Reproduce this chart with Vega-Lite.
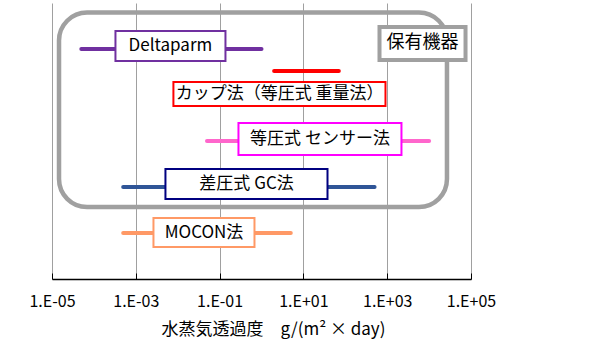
{
  "$schema": "https://vega.github.io/schema/vega-lite/v6.json",
  "width": 419,
  "height": 276,
  "autosize": "none",
  "padding": {"left": 52, "top": 3, "right": 134, "bottom": 78},
  "config": {"view": {"stroke": null}, "font": "Noto Sans CJK JP"},
  "datasets": {
    "methods": [
      {"name": "Deltaparm", "lo": 5e-5, "hi": 1, "row": 1.0, "boxLo": 3.27e-4, "boxHi": 0.138, "boxTop": 0.61, "boxBottom": 1.26, "labelX": 0.0067, "labelRow": 0.935},
      {"name": "カップ法（等圧式 重量法）", "lo": 2, "hi": 70, "row": 1.48, "boxLo": 7.9e-3, "boxHi": 910, "boxTop": 1.717, "boxBottom": 2.239, "labelX": 2.7, "labelRow": 1.978},
      {"name": "等圧式 センサー法", "lo": 0.05, "hi": 10000, "row": 3.0, "boxLo": 0.282, "boxHi": 2190, "boxTop": 2.609, "boxBottom": 3.304, "labelX": 24.9, "labelRow": 2.957},
      {"name": "差圧式 GC法", "lo": 5e-4, "hi": 500, "row": 4.0, "boxLo": 5.1e-3, "boxHi": 37.6, "boxTop": 3.609, "boxBottom": 4.261, "labelX": 0.44, "labelRow": 3.935},
      {"name": "MOCON法", "lo": 5e-4, "hi": 5, "row": 5.0, "boxLo": 2.64e-3, "boxHi": 0.68, "boxTop": 4.674, "boxBottom": 5.304, "labelX": 0.0425, "labelRow": 4.99}
    ],
    "group": [
      {"name": "保有機器", "lo": 1.47e-5, "hi": 2.67e4, "top": 0.207, "bottom": 4.435, "boxLo": 655, "boxHi": 74000, "boxTop": 0.522, "boxBottom": 1.239, "labelX": 6930, "labelRow": 0.88}
    ]
  },
  "layer": [
    {
      "data": {"name": "group"},
      "mark": {"type": "rect", "fill": null, "stroke": "#A0A0A0", "strokeWidth": 4.5, "cornerRadius": 28},
      "encoding": {
        "x": {"field": "lo", "type": "quantitative", "scale": {"type": "log", "domain": [1e-5, 1e5], "nice": false},
          "axis": {
            "values": [1e-5, 1e-3, 1e-1, 10, 1000, 100000],
            "labelExpr": "'1.E' + (datum.value < 1 ? '-' : '+') + (abs(round(log(datum.value)/LN10)) < 10 ? '0' : '') + abs(round(log(datum.value)/LN10))",
            "grid": true, "gridColor": "#A0A0A0", "gridWidth": 1,
            "domainColor": "#000000", "domainWidth": 1.5,
            "ticks": true, "tickSize": -6, "tickColor": "#000000", "tickWidth": 1,
            "labelFontSize": 16, "labelColor": "#000000", "labelPadding": 20, "labelFlush": false,
            "titleFontSize": 17, "titleFontWeight": "normal", "titleColor": "#000000", "titlePadding": 12,
            "titleX": 221, "titleAlign": "center"
          }, "title": "水蒸気透過度　g/(m² × day)"},
        "x2": {"field": "hi"},
        "y": {"field": "top", "type": "quantitative", "scale": {"domain": [0, 6], "reverse": true, "nice": false, "zero": false}, "axis": null},
        "y2": {"field": "bottom"}
      }
    },
    {
      "mark": {"type": "rule", "color": "#000000", "strokeWidth": 1.5},
      "encoding": {
        "x": {"datum": 1e-5, "type": "quantitative"},
        "x2": {"datum": 1e5},
        "y": {"datum": 0, "type": "quantitative"}
      }
    },
    {
      "mark": {"type": "rule", "color": "#000000", "strokeWidth": 1.5},
      "encoding": {
        "x": {"datum": 1e5, "type": "quantitative"},
        "y": {"datum": 0, "type": "quantitative"},
        "y2": {"datum": 6}
      }
    },
    {
      "data": {"name": "methods"},
      "mark": {"type": "rule", "strokeWidth": 4, "strokeCap": "round"},
      "encoding": {
        "x": {"field": "lo", "type": "quantitative"},
        "x2": {"field": "hi"},
        "y": {"field": "row", "type": "quantitative"},
        "stroke": {"field": "name", "type": "nominal", "legend": null,
          "scale": {"domain": ["Deltaparm", "カップ法（等圧式 重量法）", "等圧式 センサー法", "差圧式 GC法", "MOCON法"],
                    "range": ["#7030A0", "#FF0000", "#FF66CC", "#2F5597", "#FF9966"]}}
      }
    },
    {
      "data": {"name": "methods"},
      "mark": {"type": "rect", "fill": "#FFFFFF", "strokeWidth": 2},
      "encoding": {
        "x": {"field": "boxLo", "type": "quantitative"},
        "x2": {"field": "boxHi"},
        "y": {"field": "boxTop", "type": "quantitative"},
        "y2": {"field": "boxBottom"},
        "stroke": {"field": "name", "type": "nominal", "legend": null,
          "scale": {"domain": ["Deltaparm", "カップ法（等圧式 重量法）", "等圧式 センサー法", "差圧式 GC法", "MOCON法"],
                    "range": ["#7030A0", "#FF0000", "#FF00FF", "#000080", "#FF9966"]}}
      }
    },
    {
      "data": {"name": "methods"},
      "mark": {"type": "text", "fontSize": 17, "color": "#000000", "align": "center", "baseline": "middle"},
      "encoding": {
        "x": {"field": "labelX", "type": "quantitative"},
        "y": {"field": "labelRow", "type": "quantitative"},
        "text": {"field": "name"}
      }
    },
    {
      "data": {"name": "group"},
      "mark": {"type": "rect", "fill": "#FFFFFF", "stroke": "#A0A0A0", "strokeWidth": 4},
      "encoding": {
        "x": {"field": "boxLo", "type": "quantitative"},
        "x2": {"field": "boxHi"},
        "y": {"field": "boxTop", "type": "quantitative"},
        "y2": {"field": "boxBottom"}
      }
    },
    {
      "data": {"name": "group"},
      "mark": {"type": "text", "fontSize": 18, "color": "#000000", "align": "center", "baseline": "middle"},
      "encoding": {
        "x": {"field": "labelX", "type": "quantitative"},
        "y": {"field": "labelRow", "type": "quantitative"},
        "text": {"field": "name"}
      }
    }
  ],
  "resolve": {"scale": {"stroke": "independent"}}
}
